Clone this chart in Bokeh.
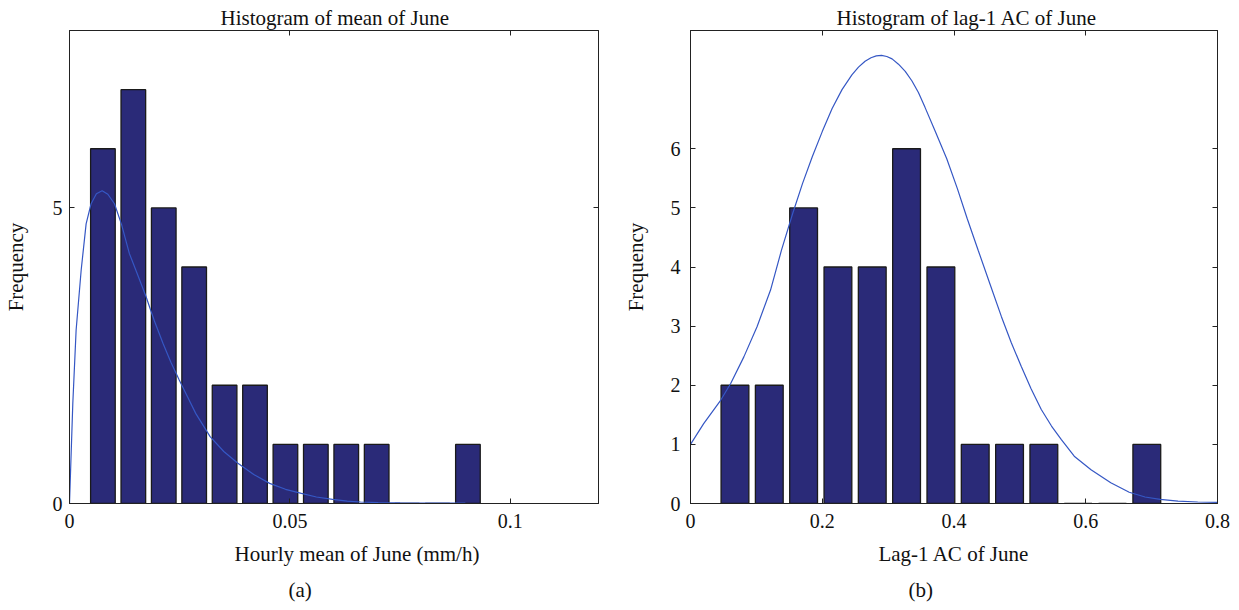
from bokeh.plotting import figure
from bokeh.layouts import row
from bokeh.models import LinearAxis, FixedTicker, Range1d, Title
from bokeh.embed import file_html
from bokeh.resources import INLINE

# ---- data: panel (a) ----
mean_centers = [0.00758, 0.01448, 0.02138, 0.02828, 0.03518, 0.04208, 0.04898,
                0.05588, 0.06278, 0.06968, 0.07658, 0.08348, 0.09038]
mean_counts = [6, 7, 5, 4, 2, 2, 1, 1, 1, 1, 0, 0, 1]
mean_fit_x = [0.0, 0.00075, 0.0015, 0.00265, 0.00377, 0.0049, 0.0061, 0.0074, 0.0087,
              0.0102, 0.0118, 0.01357, 0.0155, 0.01735, 0.0192, 0.0212, 0.0230,
              0.02489, 0.0268, 0.02866, 0.0319, 0.035, 0.0382, 0.0418, 0.0454,
              0.049, 0.0526, 0.056, 0.0597, 0.063, 0.066, 0.070, 0.075, 0.080, 0.0898]
mean_fit_y = [0.0, 1.69, 2.93, 3.95, 4.73, 5.07, 5.24, 5.29, 5.23,
              5.07, 4.72, 4.23, 3.86, 3.50, 3.1, 2.71, 2.39,
              2.09, 1.80, 1.52, 1.13, 0.88, 0.68, 0.49, 0.34,
              0.24, 0.17, 0.11, 0.07, 0.04, 0.025, 0.015, 0.01, 0.008, 0.006]
mean_xticks = [0, 0.05, 0.1]
mean_yticks = [0, 5]

# ---- data: panel (b) ----
ac_centers = [0.0675, 0.1196, 0.1717, 0.2238, 0.2759, 0.3280, 0.3801,
              0.4322, 0.4843, 0.5364, 0.5885, 0.6406, 0.6927]
ac_counts = [2, 2, 5, 4, 4, 6, 4, 1, 1, 1, 0, 0, 1]
ac_fit_x = [0.0, 0.02, 0.046, 0.061, 0.081, 0.101, 0.1215, 0.138, 0.155, 0.17,
            0.185, 0.2, 0.215, 0.23, 0.245, 0.255, 0.265, 0.274, 0.282, 0.29,
            0.298, 0.306, 0.3157, 0.326, 0.336, 0.346,
            0.356, 0.371, 0.389, 0.405, 0.42, 0.4368, 0.455, 0.472, 0.487, 0.502,
            0.517, 0.5325, 0.548, 0.563, 0.5825, 0.608, 0.638, 0.666, 0.69,
            0.713, 0.74, 0.77, 0.8]
ac_fit_y = [1.0, 1.35, 1.75, 2.03, 2.48, 2.99, 3.61, 4.28, 4.9, 5.41,
            5.87, 6.29, 6.68, 7.0, 7.25, 7.38, 7.48, 7.54, 7.57, 7.58,
            7.56, 7.52, 7.43, 7.31, 7.15, 6.95,
            6.70, 6.31, 5.83, 5.33, 4.82, 4.28, 3.7, 3.16, 2.72, 2.32,
            1.94, 1.59, 1.31, 1.08, 0.80, 0.57, 0.35, 0.19, 0.11,
            0.07, 0.04, 0.025, 0.02]
ac_xticks = [0, 0.2, 0.4, 0.6, 0.8]
ac_yticks = [0, 1, 2, 3, 4, 5, 6]

BAR = "#2a2a78"
CURVE = "#3557c4"
FONT = "Liberation Serif"
TXT = "#111111"


def style_axis(ax, ticks, labels=True):
    ax.ticker = FixedTicker(ticks=ticks)
    ax.major_tick_in = 5
    ax.major_tick_out = 0
    ax.minor_tick_line_color = None
    ax.major_tick_line_color = "#222222"
    ax.axis_line_color = "#222222"
    ax.major_label_text_font = FONT
    ax.major_label_text_color = TXT
    if labels:
        ax.major_label_text_font_size = "20px"
    else:
        ax.major_label_overrides = {t: "" for t in ticks}
        ax.major_label_text_font_size = "2px"
        ax.major_label_standoff = 0


def title(s, align, offset, standoff):
    return Title(text=s, align=align, offset=offset, standoff=standoff,
                 text_font=FONT, text_font_style="normal", text_font_size="21px",
                 text_color=TXT)


def make_panel(width, bl, br, centers, counts, binw, fx, fy, xr, xticks, yticks,
               ttl, ttl_off, ylabel, ylab_std, ylabel_tick_std,
               xlabel, xl_align, xl_off, cap, cap_off):
    p = figure(width=width, height=610, output_backend="svg", toolbar_location=None,
               x_range=Range1d(*xr), y_range=Range1d(0, 8),
               min_border_left=bl, min_border_right=br, min_border_top=30,
               min_border_bottom=107, x_axis_location=None, y_axis_location=None)
    p.grid.visible = False
    p.outline_line_color = "#222222"
    p.outline_line_width = 1
    p.background_fill_color = "white"

    p.vbar(x=centers, top=counts, width=binw * 0.81, bottom=0,
           fill_color=BAR, line_color="#1a1a1a", line_width=1.3)
    p.line(fx, fy, line_color=CURVE, line_width=1.2)

    xb = LinearAxis()
    style_axis(xb, xticks)
    xb.major_label_standoff = 10
    p.add_layout(xb, "below")

    yl = LinearAxis(axis_label=ylabel)
    style_axis(yl, yticks)
    yl.major_label_standoff = ylabel_tick_std
    yl.axis_label_standoff = ylab_std
    yl.axis_label_text_font = FONT
    yl.axis_label_text_font_style = "normal"
    yl.axis_label_text_font_size = "21px"
    yl.axis_label_text_color = TXT
    p.add_layout(yl, "left")

    yr = LinearAxis()
    style_axis(yr, yticks, labels=False)
    p.add_layout(yr, "right")

    xt = LinearAxis()
    style_axis(xt, xticks, labels=False)
    p.add_layout(xt, "above")

    p.add_layout(title(ttl, "left", ttl_off, 2), "above")
    p.add_layout(title(xlabel, xl_align, xl_off, 19), "below")
    p.add_layout(title(cap, "left", cap_off, 0), "below")
    return p


pa = make_panel(620, 69, 22, mean_centers, mean_counts, 0.0069, mean_fit_x, mean_fit_y,
                (0, 0.12), mean_xticks, mean_yticks,
                "Histogram of mean of June", 151, "Frequency", 22, 7,
                "Hourly mean of June (mm/h)", "left", 165, "(a)", 219)
pb = make_panel(619, 68, 22, ac_centers, ac_counts, 0.0521, ac_fit_x, ac_fit_y,
                (0, 0.8), ac_xticks, ac_yticks,
                "Histogram of lag-1 AC of June", 146, "Frequency", 20, 10,
                "Lag-1 AC of June", "center", 0, "(b)", 218)

layout = row(pa, pb)
open("out.html", "w").write(file_html(layout, INLINE))
